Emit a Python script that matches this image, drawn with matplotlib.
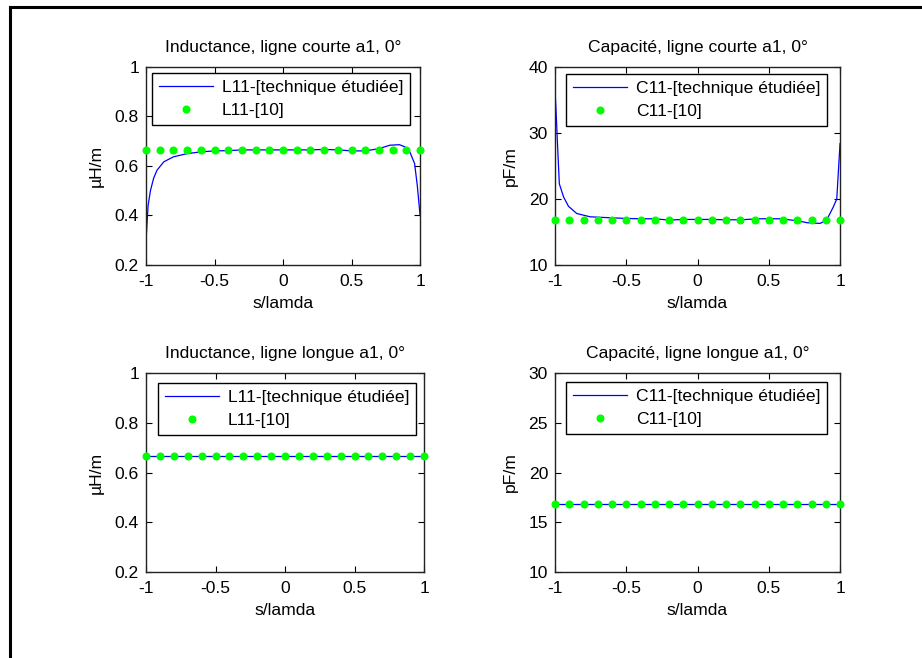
import matplotlib
matplotlib.use("Agg")
import matplotlib.pyplot as plt
from matplotlib.lines import Line2D

plt.rcParams['font.family'] = ['Liberation Sans', 'DejaVu Sans']
plt.rcParams['font.size'] = 12.6

# reference points [10], s/lamda from -1 to 1
s_ref = [-1.0, -0.9, -0.8, -0.7, -0.6, -0.5, -0.4, -0.3, -0.2, -0.1, 0.0,
         0.1, 0.2, 0.3, 0.4, 0.5, 0.6, 0.7, 0.8, 0.9, 1.0]
L11_ref = [0.665, 0.665, 0.665, 0.665, 0.665, 0.665, 0.665, 0.665, 0.665, 0.665, 0.665,
           0.665, 0.665, 0.665, 0.665, 0.665, 0.665, 0.665, 0.665, 0.665, 0.665]
C11_ref = [16.8, 16.8, 16.8, 16.8, 16.8, 16.8, 16.8, 16.8, 16.8, 16.8, 16.8,
           16.8, 16.8, 16.8, 16.8, 16.8, 16.8, 16.8, 16.8, 16.8, 16.8]

# short line, studied technique
s_Lc = [-1.0, -0.985, -0.968, -0.945, -0.92, -0.87, -0.8, -0.7, -0.6, -0.5, -0.4, -0.3,
        -0.2, -0.1, 0.0, 0.1, 0.2, 0.3, 0.4, 0.5, 0.6, 0.7, 0.78, 0.85, 0.89, 0.925,
        0.96, 0.98, 1.0]
L11_c = [0.30, 0.44, 0.50, 0.55, 0.583, 0.617, 0.637, 0.650, 0.657, 0.661, 0.662, 0.665,
         0.665, 0.665, 0.665, 0.665, 0.665, 0.667, 0.665, 0.661, 0.661, 0.670, 0.684,
         0.686, 0.677, 0.657, 0.61, 0.52, 0.40]

s_Cc = [-1.0, -0.99, -0.984, -0.97, -0.94, -0.906, -0.848, -0.754, -0.66, -0.5, -0.4,
        -0.3, -0.2, -0.1, 0.0, 0.1, 0.2, 0.3, 0.44, 0.58, 0.70, 0.77, 0.86, 0.906, 0.953,
        0.977, 1.0]
C11_c = [36.5, 32.0, 28.9, 22.3, 20.3, 18.9, 17.8, 17.3, 17.2, 17.05, 17.0,
         17.0, 16.8, 16.9, 16.9, 16.9, 16.85, 16.85, 17.0, 17.0, 16.7, 16.4, 16.3, 16.8,
         18.8, 20.0, 28.4]

# long line, studied technique
L11_l = L11_ref
C11_l = C11_ref

fig = plt.figure(figsize=(9.22, 6.58), dpi=100)

panels = [
    # position, x, y, ref, title, ylabel, ylim, yticks, names, legend anchor
    ([0.1584, 0.5973, 0.2972, 0.3009], s_Lc, L11_c, L11_ref,
     'Inductance, ligne courte a1, 0°', 'µH/m', (0.2, 1), [0.2, 0.4, 0.6, 0.8, 1],
     ['L11-[technique étudiée]', 'L11-[10]'], (0.9635, 0.968)),
    ([0.6020, 0.5973, 0.3091, 0.3009], s_Cc, C11_c, C11_ref,
     'Capacité, ligne courte a1, 0°', 'pF/m', (10, 40), [10, 20, 30, 40],
     ['C11-[technique étudiée]', 'C11-[10]'], (0.954, 0.963)),
    ([0.1584, 0.1307, 0.3015, 0.3024], s_ref, L11_l, L11_ref,
     'Inductance, ligne longue a1, 0°', 'µH/m', (0.2, 1), [0.2, 0.4, 0.6, 0.8, 1],
     ['L11-[technique étudiée]', 'L11-[10]'], (0.971, 0.95)),
    ([0.6020, 0.1307, 0.3091, 0.3024], s_ref, C11_l, C11_ref,
     'Capacité, ligne longue a1, 0°', 'pF/m', (10, 30), [10, 15, 20, 25, 30],
     ['C11-[technique étudiée]', 'C11-[10]'], (0.954, 0.955)),
]

for pos, x, y, ref, title, ylab, ylim, yt, names, anchor in panels:
    ax = fig.add_axes(pos)
    ax.plot(x, y, color='#0000ff', lw=0.9, label=names[0])
    ax.plot(s_ref, ref, ls='none', marker='o', ms=4.8, color='#00ff00',
            mec='#00ff00', label=names[1], clip_on=False, zorder=3)
    ax.set_xlim(-1, 1)
    ax.set_ylim(*ylim)
    ax.set_xticks([-1, -0.5, 0, 0.5, 1])
    ax.set_xticklabels(['-1', '-0.5', '0', '0.5', '1'])
    ax.set_yticks(yt)
    ax.set_yticklabels([('%g' % v) for v in yt])
    ax.tick_params(direction='in', top=True, right=True, length=4, width=0.8)
    ax.tick_params(axis='x', pad=6.5)
    ax.tick_params(axis='y', pad=5)
    for sp in ax.spines.values():
        sp.set_linewidth(1.0)
        sp.set_color('#222222')
    ax.set_title(title, fontsize=12.6, pad=11)
    ax.set_xlabel('s/lamda', labelpad=5)
    ax.set_ylabel(ylab, labelpad=8)
    leg = ax.legend(loc='upper right', bbox_to_anchor=anchor, borderaxespad=0,
                    fancybox=False, framealpha=1, edgecolor='black',
                    handlelength=3.1, handletextpad=0.5, borderpad=0.38,
                    labelspacing=0.45)
    leg.get_frame().set_linewidth(1.0)

# frame lines on top and left edges
fig.add_artist(Line2D([0.0105, 1.0], [0.9893, 0.9893], color='black', lw=2.2,
                      transform=fig.transFigure))
fig.add_artist(Line2D([0.0105, 0.0105], [0.0, 0.9893], color='black', lw=2.2,
                      transform=fig.transFigure))

fig.savefig('out.png', dpi=100)
